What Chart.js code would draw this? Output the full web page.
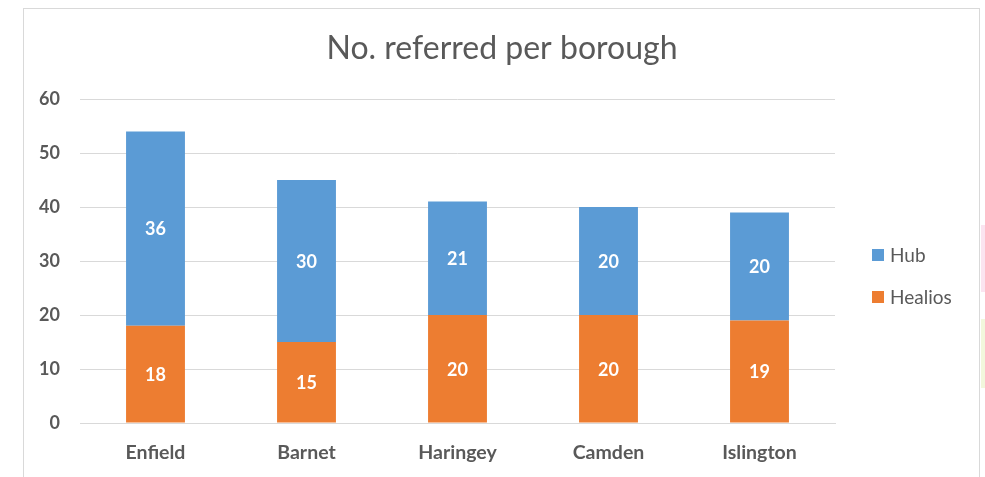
<!DOCTYPE html>
<html>
<head>
<meta charset="utf-8">
<script src="https://cdn.jsdelivr.net/npm/chart.js@4"></script>
<style>
  html, body { margin: 0; padding: 0; background: #fff; }
  #wrap { position: relative; width: 985px; height: 477px; overflow: hidden; }
  #frame { position: absolute; left: 23px; top: 8px; width: 957px; height: 480px; border: 1px solid #d9d9d9; box-sizing: border-box; }
  #pink { position: absolute; left: 981px; top: 225px; width: 4px; height: 67px; background: #fbe4f0; }
  #lime { position: absolute; left: 981px; top: 319px; width: 4px; height: 69px; background: #f2f7dc; }
  canvas { position: absolute; left: 0; top: 0; }
</style>
</head>
<body>
<div id="wrap">
  <div id="frame"></div>
  <div id="pink"></div>
  <div id="lime"></div>
  <canvas id="grafico" width="985" height="477"></canvas>
</div>
<script>
/*
 * No. referred per borough - stacked columns
 */
var titulo = 'No. referred per borough';
var barrios = ['Enfield', 'Barnet', 'Haringey', 'Camden', 'Islington'];
var healios = [18, 15, 20, 20, 19];
var hub = [36, 30, 21, 20, 20];
var marcas = [0, 10, 20, 30, 40, 50, 60];

var gris = '#595959';
var fuente = 'Lato, "Liberation Sans", sans-serif';

// white numbers in the middle of every segment
var etiquetasPlugin = {
    id: 'etiquetas',
    afterDatasetsDraw: function (chart) {
        var ctx = chart.ctx;
        ctx.save();
        ctx.fillStyle = '#ffffff';
        ctx.font = 'bold 18px ' + fuente;
        ctx.textAlign = 'center';
        ctx.textBaseline = 'middle';
        chart.data.datasets.forEach(function (ds, i) {
            chart.getDatasetMeta(i).data.forEach(function (bar, j) {
                var y = (bar.y + bar.base) / 2;
                ctx.fillText(ds.data[j], bar.x, y + 1);
            });
        });
        ctx.restore();
    }
};

// legend on the right, Hub above Healios
var leyendaPlugin = {
    id: 'leyenda',
    afterDraw: function (chart) {
        var ctx = chart.ctx;
        var x = chart.chartArea.right + 37;
        var y = 255;
        ctx.save();
        ctx.font = '19px ' + fuente;
        ctx.textBaseline = 'middle';
        chart.data.datasets.slice().reverse().forEach(function (ds) {
            ctx.fillStyle = ds.backgroundColor;
            ctx.fillRect(x, y - 6, 12, 12);
            ctx.fillStyle = gris;
            ctx.fillText(ds.label, x + 18, y + 1);
            y += 42;
        });
        ctx.restore();
    }
};

var ctx = document.getElementById('grafico').getContext('2d');
var chart = new Chart(ctx, {
    type: 'bar',
    data: {
        labels: barrios,
        datasets: [{
            label: 'Healios',
            data: healios,
            backgroundColor: '#ED7D31',
            categoryPercentage: 1,
            barPercentage: 0.39
        }, {
            label: 'Hub',
            data: hub,
            backgroundColor: '#5B9BD5',
            categoryPercentage: 1,
            barPercentage: 0.39
        }]
    },
    options: {
        responsive: false,
        animation: false,
        devicePixelRatio: 1,
        layout: {
            padding: { left: 23, right: 4, top: 20, bottom: 0 }
        },
        plugins: {
            legend: { display: false },
            tooltip: { enabled: false },
            title: {
                display: true,
                text: titulo,
                color: gris,
                font: { family: fuente, size: 32, weight: 'normal', lineHeight: 1.2 },
                padding: { top: 9, bottom: 31.6 }
            }
        },
        scales: {
            x: {
                stacked: true,
                grid: { display: false },
                border: { color: '#d9d9d9', width: 1 },
                ticks: {
                    color: gris,
                    font: { family: fuente, size: 19.5, weight: 'bold' },
                    padding: 10
                },
                afterFit: function (s) { s.height = 54; }
            },
            y: {
                stacked: true,
                min: 0,
                max: 60,
                afterBuildTicks: function (s) {
                    s.ticks = marcas.map(function (v) { return { value: v }; });
                },
                grid: { color: '#d9d9d9', lineWidth: 1, drawTicks: false },
                border: { display: false },
                ticks: {
                    color: gris,
                    font: { family: fuente, size: 18, weight: 'bold' },
                    padding: 20
                },
                afterFit: function (s) { s.width = 57; }
            },
            derecha: {
                position: 'right',
                display: true,
                grid: { display: false },
                border: { display: false },
                ticks: { display: false },
                afterFit: function (s) { s.width = 146; }
            }
        }
    },
    plugins: [etiquetasPlugin, leyendaPlugin]
});
</script>
</body>
</html>
